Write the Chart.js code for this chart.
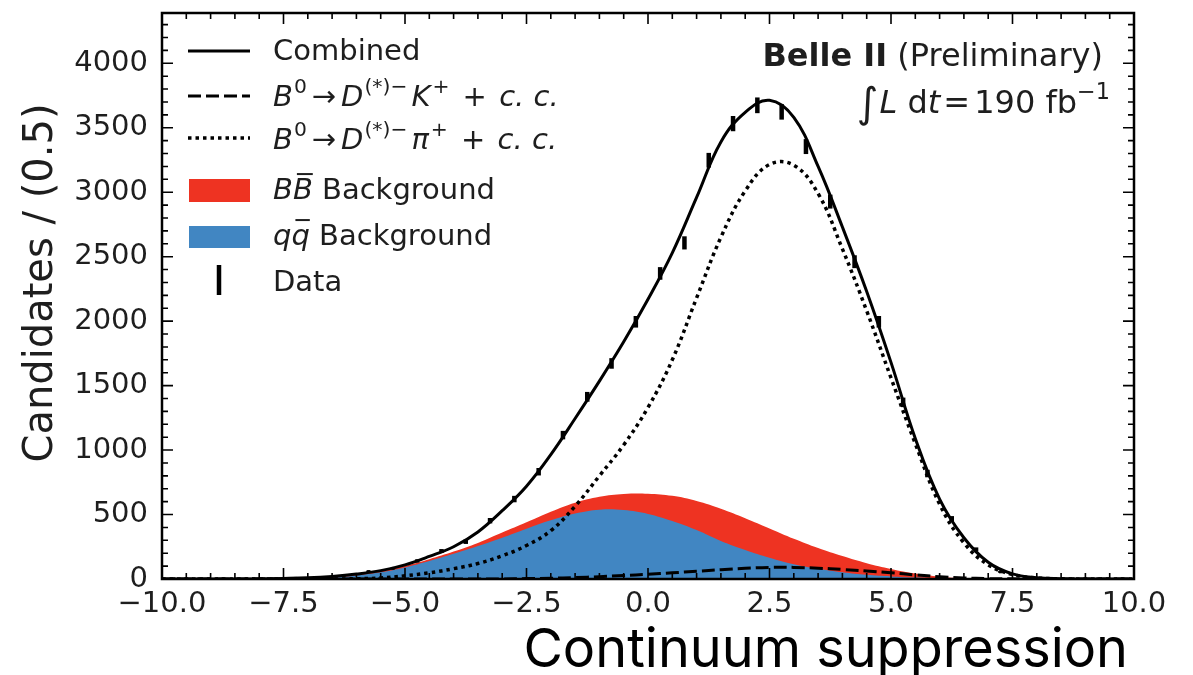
<!DOCTYPE html>
<html>
<head>
<meta charset="utf-8">
<script src="https://cdn.jsdelivr.net/npm/chart.js@4.4.0/dist/chart.umd.min.js"></script>
<style>
  html, body { margin: 0; padding: 0; background: #fff; }
  canvas { display: block; }
</style>
</head>
<body>
<canvas id="chart" width="1193" height="675"></canvas>
<script>
// fit curves, sampled every 0.5 along the continuum-suppression axis
const gridX = [-10, -9.5, -9, -8.5, -8, -7.5, -7, -6.5, -6, -5.5, -5, -4.5, -4, -3.5, -3, -2.5, -2, -1.5, -1, -0.5,
  0, 0.5, 1, 1.5, 2, 2.5, 3, 3.5, 4, 4.5, 5, 5.5, 6, 6.5, 7, 7.5, 8, 8.5, 9, 9.5, 10]
const combined = [0, 0, 0, 0, 1, 4, 9, 20, 38, 65, 110, 175, 250, 365, 530, 720, 965, 1245, 1535, 1840,
  2170, 2530, 2960, 3390, 3620, 3713, 3580, 3200, 2730, 2230, 1680, 1090, 620, 320, 130, 40, 10, 2, 0, 0, 0]
const dK = [0, 0, 0, 0, 0, 0, 0, 0, 0, 0, 0, 0, 0, 0, 0, 3, 6, 11, 18, 27,
  37, 48, 60, 72, 83, 90, 90, 84, 74, 62, 48, 32, 18, 8, 3, 1, 0, 0, 0, 0, 0]
const dPi = [0, 0, 0, 0, 0, 0, 0, 0, 2, 8, 25, 48, 80, 120, 180, 260, 375, 565, 800, 1040,
  1330, 1700, 2180, 2650, 3010, 3215, 3210, 2990, 2560, 2080, 1560, 1050, 580, 280, 110, 35, 8, 2, 0, 0, 0]
const bbBkg = [0, 0, 0, 0, 0, 0, 0, 2, 4, 8, 12, 14, 18, 25, 40, 50, 67, 84, 100, 125,
  157, 195, 225, 250, 247, 227, 197, 160, 126, 91, 58, 31, 12, 3, 0, 0, 0, 0, 0, 0, 0]
const qqBkg = [0, 0, 0, 0, 0, 0, 3, 10, 28, 52, 90, 140, 195, 255, 320, 390, 455, 508, 538, 535,
  505, 450, 380, 295, 225, 165, 115, 80, 52, 32, 20, 11, 6, 3, 1, 0, 0, 0, 0, 0, 0]

// data, bins of width 0.5
const binCenters = [-9.75, -9.25, -8.75, -8.25, -7.75, -7.25, -6.75, -6.25, -5.75, -5.25, -4.75, -4.25, -3.75, -3.25,
  -2.75, -2.25, -1.75, -1.25, -0.75, -0.25, 0.25, 0.75, 1.25, 1.75, 2.25, 2.75, 3.25, 3.75, 4.25, 4.75,
  5.25, 5.75, 6.25, 6.75, 7.25, 7.75, 8.25, 8.75, 9.25, 9.75]
const counts = [0, 0, 0, 1, 2, 5, 12, 28, 58, 83, 140, 217, 289, 452, 620, 832, 1116, 1413, 1672, 1995,
  2370, 2607, 3248, 3532, 3674, 3623, 3354, 2927, 2461, 1995, 1370, 818, 466, 230, 55, 12, 2, 0, 0, 0]
const countErrors = [0, 0, 0, 1, 1, 2, 3, 5, 8, 9, 12, 15, 17, 21, 25, 29, 33, 38, 41, 45,
  49, 51, 57, 59, 61, 60, 58, 54, 50, 45, 37, 29, 22, 15, 7, 3, 1, 0, 0, 0]

const yTicks = [0, 500, 1000, 1500, 2000, 2500, 3000, 3500, 4000]

const RED = '#ee3322'
const BLUE = '#4186c2'
const FONT = '"DejaVu Sans", sans-serif'
const TXT = '#1e1e1e'
const DOTS = [3.5, 4]
const DASHES = [13, 5]

const pts = ys => gridX.map((x, i) => ({ x, y: ys[i] }))

// draws a row of text pieces (italic, superscript, overlined) like matplotlib mathtext
function drawRuns(ctx, runs, x, y, size, align) {
  const fontOf = r => {
    const s = r.sup ? size * 0.7 : size * (r.scale || 1)
    return `${r.it ? 'italic ' : ''}${r.bold ? 'bold ' : ''}${s}px ${FONT}`
  }
  let total = 0
  runs.forEach(r => {
    ctx.font = fontOf(r)
    r.w = ctx.measureText(r.t).width + (r.gap || 0)
    total += r.w
  })
  let cx = align === 'right' ? x - total : x
  runs.forEach(r => {
    ctx.font = fontOf(r)
    const yy = r.sup ? y - size * 0.45 : y + (r.dy || 0)
    ctx.fillText(r.t, cx, yy)
    if (r.over) {
      ctx.save()
      ctx.lineWidth = 2
      ctx.strokeStyle = ctx.fillStyle
      ctx.beginPath()
      ctx.moveTo(cx + 4, y - size * 0.86)
      ctx.lineTo(cx + r.w, y - size * 0.86)
      ctx.stroke()
      ctx.restore()
    }
    cx += r.w
  })
}

const errorBars = {
  id: 'errorBars',
  afterDatasetsDraw(chart) {
    const { ctx, scales: { x, y } } = chart
    ctx.save()
    ctx.strokeStyle = '#000'
    ctx.lineWidth = 4.5
    binCenters.forEach((c, i) => {
      const e = Math.max(countErrors[i], 1)
      const px = x.getPixelForValue(c)
      ctx.beginPath()
      ctx.moveTo(px, y.getPixelForValue(counts[i] - e))
      ctx.lineTo(px, y.getPixelForValue(counts[i] + e))
      ctx.stroke()
    })
    ctx.restore()
  }
}

const frame = {
  id: 'frame',
  afterDraw(chart) {
    const { ctx, chartArea: a, scales: { x, y } } = chart
    ctx.save()
    ctx.strokeStyle = '#000'
    ctx.lineWidth = 1.6
    const tick = (px, len, vertical) => {
      ctx.beginPath()
      if (vertical) {
        ctx.moveTo(px, a.bottom); ctx.lineTo(px, a.bottom - len)
        ctx.moveTo(px, a.top); ctx.lineTo(px, a.top + len)
      } else {
        ctx.moveTo(a.left, px); ctx.lineTo(a.left + len, px)
        ctx.moveTo(a.right, px); ctx.lineTo(a.right - len, px)
      }
      ctx.stroke()
    }
    for (let v = -10; v <= 10; v += 0.5) tick(x.getPixelForValue(v), v % 2.5 === 0 ? 11 : 6, true)
    for (let v = 0; v <= y.max; v += 100) tick(y.getPixelForValue(v), v % 500 === 0 ? 11 : 6, false)
    ctx.lineWidth = 2.5
    ctx.strokeRect(a.left, a.top, a.right - a.left, a.bottom - a.top)

    // legend
    const lx0 = 188, lx1 = 250, tx = 273
    const sample = (yy, dash, w) => {
      ctx.save()
      ctx.lineWidth = w
      ctx.setLineDash(dash)
      ctx.beginPath(); ctx.moveTo(lx0, yy); ctx.lineTo(lx1, yy); ctx.stroke()
      ctx.restore()
    }
    sample(51, [], 3)
    sample(96, DASHES, 3)
    sample(138, DOTS, 3.5)
    ctx.fillStyle = RED
    ctx.fillRect(189, 179, 61, 23)
    ctx.fillStyle = BLUE
    ctx.fillRect(189, 226, 61, 22)
    ctx.strokeStyle = '#000'
    ctx.lineWidth = 4.5
    ctx.beginPath(); ctx.moveTo(219, 265); ctx.lineTo(219, 295); ctx.stroke()

    ctx.fillStyle = TXT
    ctx.textBaseline = 'alphabetic'
    ctx.textAlign = 'left'
    const S = 29
    drawRuns(ctx, [{ t: 'Combined' }], tx, 60, S)
    const decay = last => [
      { t: 'B', it: true, gap: 1 }, { t: '0', sup: true, gap: 5 }, { t: '→', gap: 5 }, { t: 'D', it: true, gap: 1 },
      { t: '(*)−', sup: true, gap: 4 }, { t: last, it: true, gap: 2 }, { t: '+', sup: true, gap: 4 },
      { t: ' + ', gap: 3 }, { t: 'c. c.', it: true }
    ]
    drawRuns(ctx, decay('K'), tx, 106, S)
    drawRuns(ctx, decay('π'), tx, 149, S)
    drawRuns(ctx, [{ t: 'B', it: true }, { t: 'B', it: true, over: true }, { t: ' Background' }], tx, 199, S)
    drawRuns(ctx, [{ t: 'q', it: true }, { t: 'q', it: true, over: true }, { t: ' Background' }], tx, 245, S)
    drawRuns(ctx, [{ t: 'Data' }], tx, 291, S)

    // experiment label
    drawRuns(ctx, [{ t: 'Belle II', bold: true }, { t: ' (Preliminary)' }], 1103, 66, 32, 'right')
    drawRuns(ctx, [
      { t: '∫', scale: 1.3, dy: 4, gap: 1 }, { t: 'L', it: true }, { t: ' d' }, { t: 't', it: true, gap: 3 },
      { t: '=', gap: 4 }, { t: '190 fb' }, { t: '−1', sup: true }
    ], 1110, 113, 32, 'right')

    // axis titles
    ctx.save()
    ctx.translate(42, 283)
    ctx.rotate(-Math.PI / 2)
    ctx.textAlign = 'center'
    ctx.textBaseline = 'middle'
    ctx.font = `40px ${FONT}`
    ctx.fillText('Candidates / (0.5)', 0, 0)
    ctx.restore()

    ctx.font = '54px Inter, sans-serif'
    ctx.fillStyle = '#000'
    ctx.textAlign = 'right'
    ctx.fillText('Continuum suppression', 1128, 667)
    ctx.restore()
  }
}

new Chart(document.getElementById('chart'), {
  type: 'line',
  data: {
    datasets: [
      { label: 'Data', data: binCenters.map((x, i) => ({ x, y: counts[i] })), showLine: false,
        pointStyle: 'rect', pointRadius: 2, backgroundColor: '#000', borderWidth: 0, order: 0 },
      { label: 'Combined', data: pts(combined), borderColor: '#000', borderWidth: 3, pointRadius: 0,
        tension: 0.4, fill: false, order: 1 },
      { label: 'K', data: pts(dK), borderColor: '#000', borderWidth: 3, borderDash: DASHES, pointRadius: 0,
        tension: 0.4, fill: false, order: 2 },
      { label: 'pi', data: pts(dPi), borderColor: '#000', borderWidth: 3.5, borderDash: DOTS, pointRadius: 0,
        tension: 0.4, fill: false, order: 3 },
      { label: 'qq', data: pts(qqBkg), borderWidth: 0, backgroundColor: BLUE, pointRadius: 0,
        tension: 0.4, fill: 'origin', order: 4 },
      { label: 'BB', data: pts(qqBkg.map((q, i) => q + bbBkg[i])), borderWidth: 0, backgroundColor: RED,
        pointRadius: 0, tension: 0.4, fill: 'origin', order: 5 }
    ]
  },
  options: {
    responsive: false,
    animation: false,
    layout: { padding: { top: 13, right: 59, left: 0, bottom: 0 } },
    plugins: { legend: { display: false }, tooltip: { enabled: false } },
    scales: {
      x: {
        type: 'linear', min: -10, max: 10,
        grid: { display: false, drawTicks: false },
        border: { display: false },
        afterFit: s => { s.height = 96; s.paddingLeft = 0; s.paddingRight = 0 },
        ticks: {
          stepSize: 2.5, maxRotation: 0, autoSkip: false, padding: 8, color: TXT,
          font: { family: FONT, size: 29 },
          callback: v => v.toFixed(1).replace('-', '−')
        }
      },
      y: {
        min: 0, max: 4390,
        grid: { display: false, drawTicks: false },
        border: { display: false },
        afterFit: s => { s.width = 162; s.paddingTop = 0; s.paddingBottom = 0 },
        afterBuildTicks: s => { s.ticks = yTicks.map(value => ({ value })) },
        ticks: { padding: 14, color: TXT, font: { family: FONT, size: 29 }, callback: v => String(v) }
      }
    }
  },
  plugins: [errorBars, frame]
})
</script>
</body>
</html>
